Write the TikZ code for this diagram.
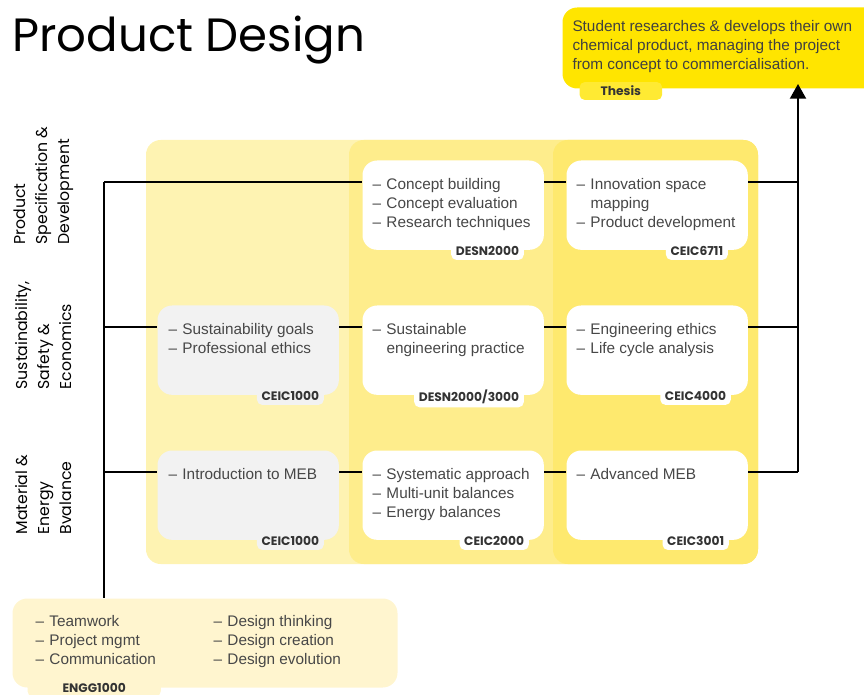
\documentclass[tikz,border=0pt]{standalone}
\usepackage{fontspec}
\setmainfont{Liberation Sans}
\newfontfamily\geofont{Poppins}
\usetikzlibrary{arrows.meta,positioning,calc}

\definecolor{panelA}{HTML}{FEF3B2}
\definecolor{panelB}{HTML}{FEED8C}
\definecolor{panelC}{HTML}{FEE96E}
\definecolor{boxgray}{HTML}{F2F2F2}
\definecolor{basecream}{HTML}{FFF5CF}
\definecolor{thesisyellow}{HTML}{FFE500}
\definecolor{textgray}{HTML}{474747}

\tikzset{every picture/.style={line width=0.75pt}}
\tikzset{
  course/.style={rounded corners=11pt, minimum width=136pt, minimum height=67pt, inner sep=0pt, anchor=north west},
  whitebox/.style={course, fill=white},
  graybox/.style={course, fill=boxgray},
  topics/.style={anchor=north west, inner sep=0pt, align=left, text=textgray, font=\fontsize{11.5}{14.25}\selectfont},
  code/.style={rounded corners=4pt, inner xsep=3.5pt, inner ysep=3pt, text=black!80, font=\geofont\bfseries\fontsize{9.2}{11}\selectfont},
  link/.style={line width=1.5pt},
  theme/.style={rotate=90, anchor=west, align=left, inner sep=0pt, font=\geofont\fontsize{11.8}{16.5}\selectfont},
}
\newcommand{\bul}{\makebox[10.5pt][l]{--}}

\begin{document}
\begin{tikzpicture}[x=0.75pt,y=0.75pt,yscale=-1,xscale=1]
\useasboundingbox (0,0) rectangle (864,695);

% Title
\node[anchor=base west, inner sep=0pt, font=\geofont\fontsize{35}{38}\selectfont] (title) at (12,52) {Product Design};

% Year panels
\fill[panelA, rounded corners=11pt] (146,140) rectangle (758,564);
\fill[panelB, rounded corners=11pt] (349,140) rectangle (758,564);
\fill[panelC, rounded corners=11pt] (553,140) rectangle (758,564);

% Themes
\node[theme] (themeA) at (44,245) {Product\\Specification \&\\Development};
\node[theme] (themeB) at (44,390) {Sustainability,\\Safety \&\\Economics};
\node[theme] (themeC) at (44,535) {Material \&\\Energy\\Bvalance};

% Thesis
\node[course, fill=thesisyellow, minimum width=238.5pt, minimum height=60.75pt] (thesis) at (562,7) {};
\node[code, fill=thesisyellow!80!white, anchor=west, minimum width=62pt] (thesiscode) at ($(thesis.south west)+(17,2)$) {Thesis};
\node[topics, text=black!75] (thesistext) at ($(thesis.north west)+(10,13)$) {Student researches \& develops their own\\chemical product, managing the project\\from concept to commercialisation.};

% First year base course
\node[course, fill=basecream, minimum width=288.75pt, minimum height=66.75pt] (engg) at (12,598) {};
\node[code, fill=basecream, anchor=west, minimum width=100pt] (enggcode) at ($(engg.south west)+(15,0)$) {ENGG1000};
\node[topics] (enggleft) at ($(engg.north west)+(23,17)$) {\bul Teamwork\\ \bul Project mgmt\\ \bul Communication};
\node[topics] (enggright) at ($(engg.north west)+(201,17)$) {\bul Design thinking\\ \bul Design creation\\ \bul Design evolution};

% Course boxes
\node[whitebox] (desnA) at (362,160) {};
\node[whitebox] (ceicF) at (566,160) {};
\node[graybox] (ceicOneS) at (157,305) {};
\node[whitebox] (desnB) at (362,305) {};
\node[whitebox] (ceicFour) at (566,305) {};
\node[graybox] (ceicOneM) at (157,450) {};
\node[whitebox] (ceicTwo) at (362,450) {};
\node[whitebox] (ceicThree) at (566,450) {};

\node[code, fill=white, anchor=east] (desnAcode) at ($(desnA.south east)+(-20,1)$) {DESN2000};
\node[code, fill=white, anchor=east] (ceicFcode) at ($(ceicF.south east)+(-20,1)$) {CEIC6711};
\node[code, fill=boxgray, anchor=east] (ceicOneScode) at ($(ceicOneS.south east)+(-15,1)$) {CEIC1000};
\node[code, fill=white, anchor=east] (desnBcode) at ($(desnB.south east)+(-20,1)$) {DESN2000/3000};
\node[code, fill=white, anchor=east] (ceicFourcode) at ($(ceicFour.south east)+(-17,1)$) {CEIC4000};
\node[code, fill=boxgray, anchor=east] (ceicOneMcode) at ($(ceicOneM.south east)+(-15,1)$) {CEIC1000};
\node[code, fill=white, anchor=east] (ceicTwocode) at ($(ceicTwo.south east)+(-15,1)$) {CEIC2000};
\node[code, fill=white, anchor=east] (ceicThreecode) at ($(ceicThree.south east)+(-19,1)$) {CEIC3001};

\node[topics] (desnAtext) at ($(desnA.north west)+(10,18)$) {\bul Concept building\\ \bul Concept evaluation\\ \bul Research techniques};
\node[topics] (ceicFtext) at ($(ceicF.north west)+(10,18)$) {\bul Innovation space\\ \hspace*{10.5pt}mapping\\ \bul Product development};
\node[topics] (ceicOneStext) at ($(ceicOneS.north west)+(11,18)$) {\bul Sustainability goals\\ \bul Professional ethics};
\node[topics] (desnBtext) at ($(desnB.north west)+(10,18)$) {\bul Sustainable\\ \hspace*{10.5pt}engineering practice};
\node[topics] (ceicFourtext) at ($(ceicFour.north west)+(10,18)$) {\bul Engineering ethics\\ \bul Life cycle analysis};
\node[topics] (ceicOneMtext) at ($(ceicOneM.north west)+(11,18)$) {\bul Introduction to MEB};
\node[topics] (ceicTwotext) at ($(ceicTwo.north west)+(10,18)$) {\bul Systematic approach\\ \bul Multi-unit balances\\ \bul Energy balances};
\node[topics] (ceicThreetext) at ($(ceicThree.north west)+(10,18)$) {\bul Advanced MEB};

% Connectors
\coordinate (leftA) at (104,182);
\coordinate (leftB) at (104,327);
\coordinate (leftC) at (104,472);
\coordinate (rightA) at (798,182);
\coordinate (rightB) at (798,327);
\coordinate (rightC) at (798,472);
\coordinate (tip) at ($(rightC |- thesis.south)+(0,-5)$);

\draw[link] (leftA) -- (leftA -| desnA.west);
\draw[link] (desnA.east |- leftA) -- (leftA -| ceicF.west);
\draw[link] (ceicF.east |- leftA) -- (rightA);

\draw[link] (leftB) -- (leftB -| ceicOneS.west);
\draw[link] (ceicOneS.east |- leftB) -- (leftB -| desnB.west);
\draw[link] (desnB.east |- leftB) -- (leftB -| ceicFour.west);
\draw[link] (ceicFour.east |- leftB) -- (rightB);

\draw[link] (leftC) -- (leftC -| ceicOneM.west);
\draw[link] (ceicOneM.east |- leftC) -- (leftC -| ceicTwo.west);
\draw[link] (ceicTwo.east |- leftC) -- (leftC -| ceicThree.west);
\draw[link] (ceicThree.east |- leftC) -- (rightC);

\draw[link] (leftA) -- (leftA |- engg.north);
\draw[link, -{Triangle[width=12pt,length=11pt]}] (rightC) -- (tip);

\end{tikzpicture}
\end{document}
